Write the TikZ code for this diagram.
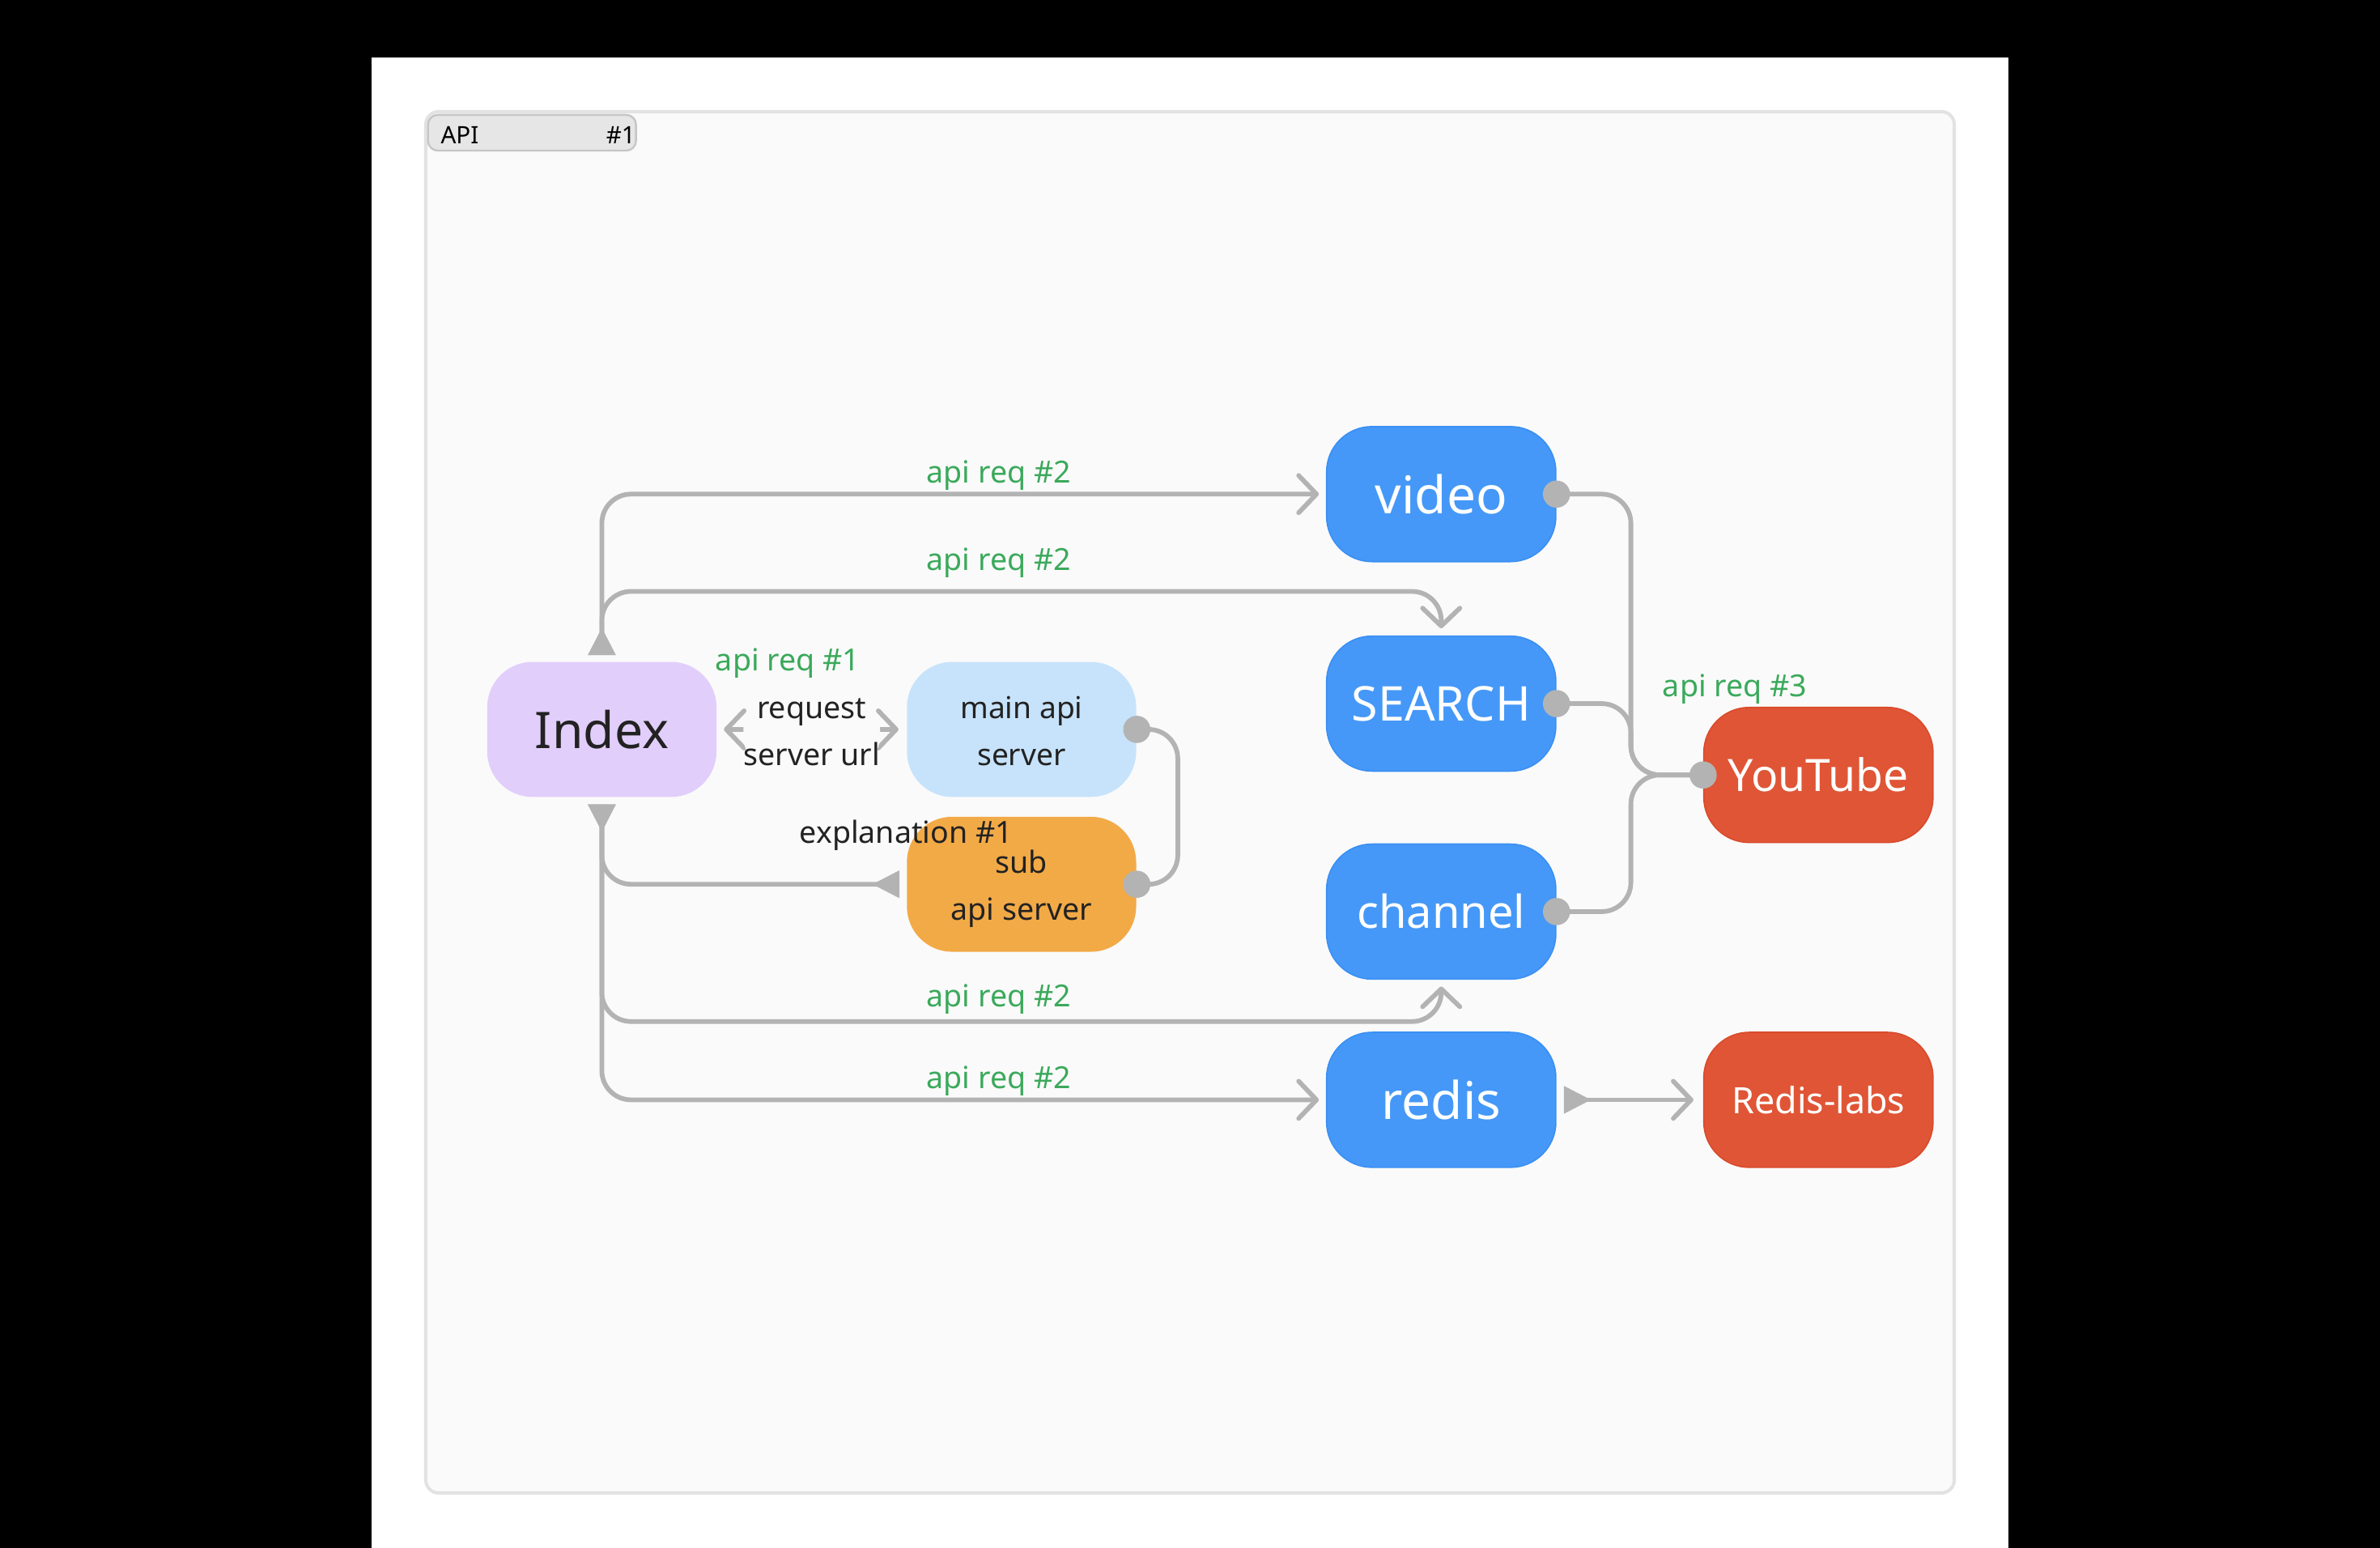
\documentclass[tikz,border=0pt]{standalone}
\usepackage{fontspec}
\setmainfont{Noto Sans}
\usetikzlibrary{arrows.meta,calc}
\definecolor{connc}{HTML}{B3B3B3}
\definecolor{framefill}{HTML}{FAFAFA}
\definecolor{framedraw}{HTML}{E2E2E2}
\definecolor{tabfill}{HTML}{E6E6E6}
\definecolor{tabdraw}{HTML}{C6C6C6}
\definecolor{idxc}{HTML}{E1CEFB}
\definecolor{mainc}{HTML}{C7E3FB}
\definecolor{subc}{HTML}{F2AA47}
\definecolor{bluec}{HTML}{4598F7}
\definecolor{bluedraw}{HTML}{3A8FF3}
\definecolor{redc}{HTML}{E05535}
\definecolor{reddraw}{HTML}{D94B2C}
\definecolor{greenc}{HTML}{3BA95B}
\definecolor{darktext}{HTML}{222222}
\tikzset{
  Chev/.tip={Straight Barb[length=5.5pt,width=11.5pt,round]},
  Tri/.tip={Triangle[reversed,length=8.4pt,width=8.2pt]},
  box/.style={rounded corners=14pt, minimum width=70.8pt, minimum height=41.7pt, inner sep=0pt, align=center},
  bluebox/.style={box, fill=bluec, draw=bluedraw, line width=0.4pt, text=white},
  redbox/.style={box, fill=redc, draw=reddraw, line width=0.4pt, text=white},
  conn/.style={draw=connc, line width=1.45pt, rounded corners=9pt},
  dot/.style={fill=connc},
  lbl/.style={text=greenc, inner sep=0pt, font=\fontsize{9.4}{11}\selectfont},
  dlbl/.style={text=darktext, inner sep=0pt, align=center, font=\fontsize{9.4}{14.5}\selectfont},
}
\begin{document}
\begin{tikzpicture}[x=0.46875pt,y=-0.46875pt]
\useasboundingbox (0,0) rectangle (1568,1019.73);
\fill[black] (0,0) rectangle (1568,1019.73);
\fill[white] (245,38) rectangle (1323,1019.73);
\draw[fill=framefill, draw=framedraw, line width=1pt, rounded corners=4pt] (280.5,73.5) rectangle (1287.5,983.5);
% title tab
\draw[fill=tabfill, draw=tabdraw, line width=0.6pt, rounded corners=3pt] (282,75.7) rectangle (419,99.2);
\node[anchor=base west, inner sep=0pt, text=black, font=\fontsize{7.4}{9}\selectfont] (tabname) at (290,94.5) {API};
\node[anchor=base east, inner sep=0pt, text=black, font=\fontsize{7.4}{9}\selectfont] (tabnum) at (419,94.5) {\#1};
% nodes
\node[box, fill=idxc, text=darktext, font=\fontsize{15.6}{18}\selectfont] (idx) at (396.5,480.5) {Index};
\node[box, fill=mainc, text=darktext, font=\fontsize{9.3}{14.5}\selectfont] (main) at (673,480.5) {\rule{0pt}{8pt}main api\\server};
\node[box, fill=subc, text=darktext, font=\fontsize{9.4}{14.5}\selectfont] (sub) at (673,582.5) {\rule{0pt}{10pt}sub\\api server};
\node[bluebox, font=\fontsize{16}{18}\selectfont] (video) at (949.5,325.5) {video};
\node[bluebox, font=\fontsize{14.8}{18}\selectfont] (search) at (949.5,463.5) {SEARCH};
\node[bluebox, font=\fontsize{14}{18}\selectfont] (channel) at (949.5,600.5) {channel};
\node[bluebox, font=\fontsize{16}{18}\selectfont] (redis) at (949.5,724.5) {redis};
\node[redbox, font=\fontsize{13.8}{18}\selectfont] (yt) at (1198,510.5) {YouTube};
\node[redbox, font=\fontsize{11.2}{14}\selectfont] (rlabs) at (1198,724.5) {Redis-labs};
% connectors from Index
\draw[conn, Tri-Chev, shorten <=1.9pt, shorten >=2.2pt] (idx.north) |- (video.west);
\draw[conn, Tri-Chev, shorten <=1.9pt, shorten >=2.2pt] (idx.north) -- ++(0,-46) -| (search.north);
\draw[conn, Chev-Chev, shorten <=2.1pt, shorten >=2.4pt] (idx.east) -- node[dlbl, fill=framefill, yshift=-0.9pt] (reqlbl) {request\\server url} (main.west);
\draw[conn] (main.east) -- ++(27,0) |- (sub.east);
\draw[conn, Tri-Tri, shorten <=2.1pt, shorten >=2.1pt] (sub.west) -| (idx.south);
\draw[conn, Tri-Chev, shorten <=2.1pt, shorten >=2.1pt] (idx.south) -- ++(0,147.5) -| (channel.south);
\draw[conn, Tri-Chev, shorten <=2.1pt, shorten >=2.2pt] (idx.south) |- (redis.west);
\draw[conn, Tri-Chev, shorten <=2.3pt, shorten >=3pt] (redis.east) -- (rlabs.west);
% to YouTube
\draw[conn] (video.east) -- ++(49,0) |- (yt.west);
\draw[conn] (search.east) -- ++(49,0) |- (yt.west);
\draw[conn] (channel.east) -- ++(49,0) |- (yt.west);
% dots
\fill[dot] (main.east) circle (4.2pt);
\fill[dot] (sub.east) circle (4.2pt);
\fill[dot] (video.east) circle (4.2pt);
\fill[dot] (search.east) circle (4.2pt);
\fill[dot] (channel.east) circle (4.2pt);
\fill[dot] (yt.west) circle (4.2pt);
% labels
\node[lbl] (l1) at (519,437) {api req \#1};
\node[lbl] (l2a) at (658,313) {api req \#2};
\node[lbl] (l2b) at (658,371) {api req \#2};
\node[lbl] (l2c) at (658,658) {api req \#2};
\node[lbl] (l2d) at (658,712) {api req \#2};
\node[lbl] (l3) at (1143,454) {api req \#3};
\node[dlbl] (expl) at (597,550) {explanation \#1};
\end{tikzpicture}
\end{document}
